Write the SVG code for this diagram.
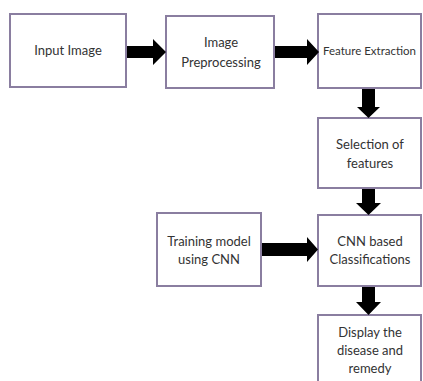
<svg xmlns="http://www.w3.org/2000/svg" width="423" height="381" viewBox="0 0 423 381">
<style>
.box{fill:#ffffff;stroke:#8a7ea0;stroke-width:2}
.t{font-family:Lato,"Open Sans","Liberation Sans",sans-serif;font-size:13px;fill:#333333;text-anchor:middle}
.arr{fill:#000000}
</style>
<rect width="423" height="381" fill="#ffffff"/>
<g id="input-image">
<rect class="box" x="10" y="14" width="116" height="73"/>
<text class="t" x="68" y="55">Input Image</text>
</g>
<g id="image-preprocessing">
<rect class="box" x="166" y="16" width="108" height="72"/>
<text class="t" x="221" y="47">Image</text>
<text class="t" x="221" y="67">Preprocessing</text>
</g>
<g id="feature-extraction">
<rect class="box" x="318" y="14" width="103" height="74"/>
<text class="t" x="369.5" y="55" style="font-size:11.5px">Feature Extraction</text>
</g>
<g id="selection-of-features">
<rect class="box" x="318" y="118" width="103" height="70"/>
<text class="t" x="370" y="149">Selection of</text>
<text class="t" x="370" y="168">features</text>
</g>
<g id="training-model">
<rect class="box" x="157" y="213" width="104" height="73"/>
<text class="t" x="209" y="246">Training model</text>
<text class="t" x="209" y="264">using CNN</text>
</g>
<g id="cnn-classifications">
<rect class="box" x="318" y="215" width="103" height="71"/>
<text class="t" x="370" y="246">CNN based</text>
<text class="t" x="370" y="264">Classifications</text>
</g>
<g id="display-disease">
<rect class="box" x="318" y="315" width="103" height="80"/>
<text class="t" x="370" y="337">Display the</text>
<text class="t" x="370" y="355">disease and</text>
<text class="t" x="370" y="373">remedy</text>
</g>
<g id="connectors">
<polygon class="arr" points="127,46 153,46 153,39 166,52 153,65 153,58 127,58"/>
<polygon class="arr" points="275,46 307,46 307,39 319,52 307,65 307,58 275,58"/>
<polygon class="arr" points="362,89 375,89 375,107 380,107 368.5,118 357,107 362,107"/>
<polygon class="arr" points="362,189 375,189 375,203 381,203 368.5,215 356,203 362,203"/>
<polygon class="arr" points="362,287 375,287 375,302 381,302 368.5,315 356,302 362,302"/>
<polygon class="arr" points="262,243 307,243 307,237 318,249.5 307,262 307,256 262,256"/>
</g>
</svg>
